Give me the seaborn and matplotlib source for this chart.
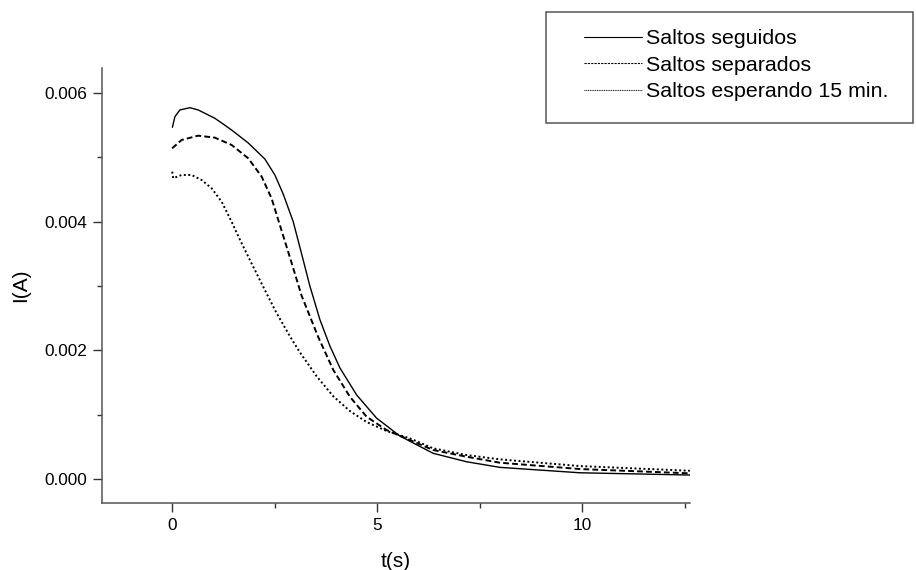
import matplotlib
matplotlib.use("Agg")
import matplotlib.pyplot as plt
from matplotlib.patches import Rectangle
from matplotlib.ticker import MultipleLocator, FormatStrFormatter
import numpy as np
import pandas as pd
import seaborn as sns

# ---- data ----
t_seguidos = [0.005, 0.066, 0.188, 0.432, 0.634, 1.041, 1.449, 1.854, 2.261, 2.505, 2.707,
              2.951, 3.156, 3.358, 3.602, 3.846, 4.090, 4.498, 4.985, 5.554, 6.366, 7.180,
              7.993, 9.944, 12.627]
i_seguidos = [0.005463, 0.005628, 0.005732, 0.005767, 0.005732, 0.005603, 0.005421, 0.005220,
              0.004970, 0.004722, 0.004428, 0.004000, 0.003500, 0.003000, 0.002480, 0.002070,
              0.001730, 0.001310, 0.000950, 0.000672, 0.000404, 0.000273, 0.000186, 0.000102,
              0.000067]

t_separados = [0.0, 0.229, 0.634, 1.041, 1.449, 1.854, 2.180, 2.424, 2.668, 2.912, 3.156,
               3.561, 3.927, 4.334, 4.741, 5.229, 5.798, 6.366, 7.180, 7.993, 9.944, 12.627]
i_separados = [0.005137, 0.005266, 0.005333, 0.005302, 0.005189, 0.004982, 0.004700, 0.004360,
               0.003860, 0.003360, 0.002850, 0.002210, 0.001700, 0.001282, 0.000972, 0.000765,
               0.000610, 0.000455, 0.000351, 0.000258, 0.000160, 0.000093]

t_esperando = [0.0, 0.024, 0.229, 0.473, 0.717, 0.961, 1.205, 1.449, 1.651, 1.895, 2.220,
               2.546, 2.871, 3.115, 3.522, 3.927, 4.334, 4.741, 5.229, 5.798, 6.366, 7.180,
               7.993, 9.944, 12.627]
i_esperando = [0.004774, 0.004672, 0.004723, 0.004723, 0.004645, 0.004517, 0.004309, 0.003998,
               0.003720, 0.003404, 0.002989, 0.002580, 0.002220, 0.001970, 0.001600, 0.001290,
               0.001060, 0.000890, 0.000750, 0.000636, 0.000481, 0.000377, 0.000310, 0.000206,
               0.000133]

series_names = ["Saltos seguidos", "Saltos separados", "Saltos esperando 15 min."]
x_label = "t(s)"
y_label = "I(A)"

df = pd.concat([
    pd.DataFrame({"t": t_seguidos, "I": i_seguidos, "serie": series_names[0]}),
    pd.DataFrame({"t": t_separados, "I": i_separados, "serie": series_names[1]}),
    pd.DataFrame({"t": t_esperando, "I": i_esperando, "serie": series_names[2]}),
], ignore_index=True)

sns.set_style("ticks")
plt.rcParams["font.family"] = ["Liberation Sans", "DejaVu Sans"]
plt.rcParams["text.color"] = "black"
plt.rcParams["axes.labelcolor"] = "black"
plt.rcParams["xtick.color"] = "black"
plt.rcParams["ytick.color"] = "black"

fig = plt.figure(figsize=(9.16, 5.70), dpi=100)
ax = fig.add_axes([0.111, 0.118, 0.6423, 0.7627])

dash_map = {series_names[0]: "", series_names[1]: (3.0, 1.6), series_names[2]: (1.0, 1.3)}
width_map = {series_names[0]: 1.0, series_names[1]: 1.4, series_names[2]: 1.4}

sns.lineplot(data=df, x="t", y="I", hue="serie", style="serie",
             palette={n: "black" for n in series_names}, dashes=dash_map,
             estimator=None, sort=True, ax=ax, legend=True, linewidth=1.2)
for line, n in zip(ax.get_lines(), series_names):
    line.set_linewidth(width_map[n])

ax.set_xlim(-1.72, 12.63)
ax.set_ylim(-0.000363, 0.006383)
ax.xaxis.set_major_locator(MultipleLocator(5))
ax.xaxis.set_minor_locator(MultipleLocator(2.5))
ax.yaxis.set_major_locator(MultipleLocator(0.002))
ax.yaxis.set_minor_locator(MultipleLocator(0.001))
ax.yaxis.set_major_formatter(FormatStrFormatter("%.3f"))
ax.xaxis.set_major_formatter(FormatStrFormatter("%d"))

for s in ["top", "right"]:
    ax.spines[s].set_visible(False)
for s in ["left", "bottom"]:
    ax.spines[s].set_color("#555555")
    ax.spines[s].set_linewidth(1.1)
ax.tick_params(which="major", length=6.2, width=1.0, color="#333333", labelcolor="black",
               labelsize=12.4, pad=4.5, direction="out")
ax.tick_params(which="minor", length=3.3, width=1.0, color="#333333", direction="out")

ax.set_xlabel(x_label, fontsize=15, labelpad=14, color="black")
ax.set_ylabel(y_label, fontsize=15, labelpad=10, color="black")

# legend outside the axes, top-right
handles, labels = ax.get_legend_handles_labels()
ax.get_legend().remove()
leg = fig.legend(handles, labels, loc="upper left", bbox_to_anchor=(584 / 916, 1 - 29 / 570),
                 frameon=False, fontsize=15.4, handlelength=2.7, handletextpad=0.2,
                 labelspacing=0.36, borderpad=0.0, borderaxespad=0.0)
for txt in leg.get_texts():
    txt.set_color("black")
for lh in leg.get_lines():
    lh.set_linewidth(0.8)
leg.get_lines()[1].set_dashes((2.0, 1.0))
leg.get_lines()[2].set_dashes((0.8, 0.8))
fig.patches.append(Rectangle((546 / 916, 1 - 123 / 570), (913 - 546) / 916, (123 - 12) / 570,
                             transform=fig.transFigure, fill=False, edgecolor="#555555",
                             linewidth=1.1))

fig.savefig("out.png", dpi=100)
